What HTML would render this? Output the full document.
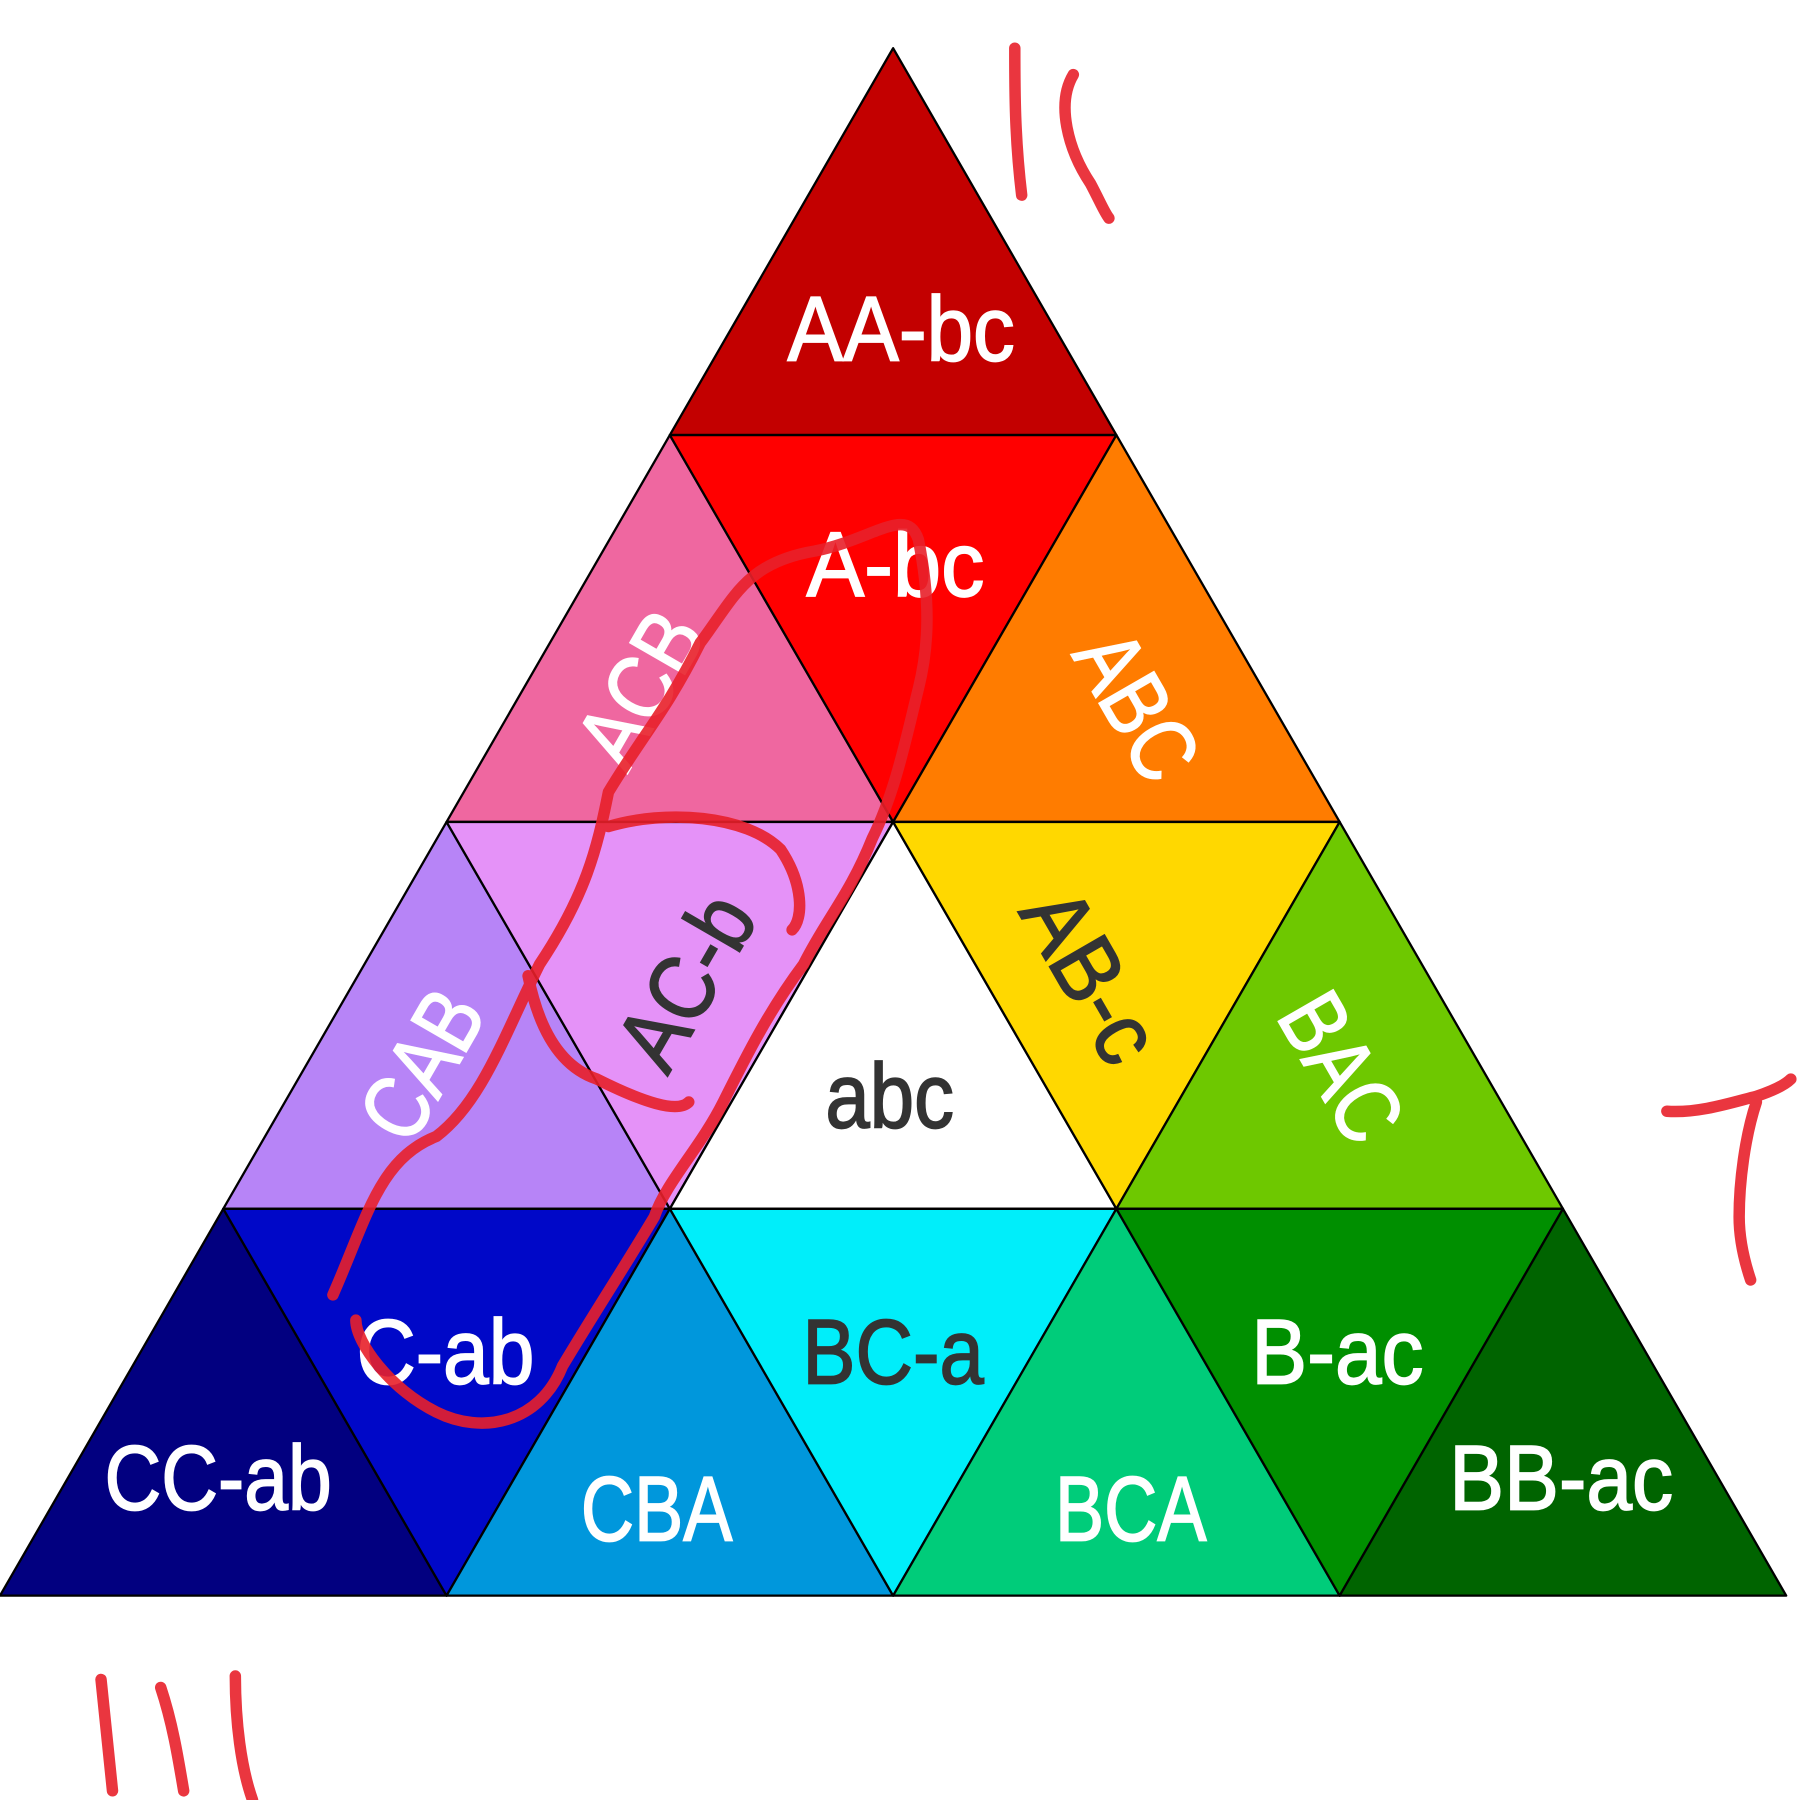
<!DOCTYPE html>
<html><head><meta charset="utf-8"><style>html,body{margin:0;padding:0;background:#fff}svg{display:block}
text{font-family:"Liberation Sans Narrow","Liberation Sans",sans-serif;font-size:80px;text-anchor:middle;dominant-baseline:central;fill:#fff;stroke:#fff;stroke-width:1.5}
.d{fill:#333;stroke:#333}</style></head><body>
<svg width="1800" height="1800" viewBox="0 0 1568 1568" xmlns="http://www.w3.org/2000/svg">
<g stroke="#000" stroke-width="2" stroke-linejoin="round">
<polygon points="778,42 583.5,379 972.5,379" fill="#c30000"/>
<polygon points="583.5,379 389,716 778,716" fill="#ef67a0"/>
<polygon points="583.5,379 972.5,379 778,716" fill="#ff0000"/>
<polygon points="972.5,379 778,716 1167,716" fill="#ff7c00"/>
<polygon points="389,716 194.5,1053 583.5,1053" fill="#b784f7"/>
<polygon points="389,716 778,716 583.5,1053" fill="#e592f8"/>
<polygon points="778,716 583.5,1053 972.5,1053" fill="#ffffff"/>
<polygon points="778,716 1167,716 972.5,1053" fill="#ffd800"/>
<polygon points="1167,716 972.5,1053 1361.5,1053" fill="#6ec800"/>
<polygon points="194.5,1053 0,1390 389,1390" fill="#020080"/>
<polygon points="194.5,1053 583.5,1053 389,1390" fill="#0008c8"/>
<polygon points="583.5,1053 389,1390 778,1390" fill="#0097dc"/>
<polygon points="583.5,1053 972.5,1053 778,1390" fill="#00eefa"/>
<polygon points="972.5,1053 778,1390 1167,1390" fill="#00cc7a"/>
<polygon points="972.5,1053 1361.5,1053 1167,1390" fill="#008f00"/>
<polygon points="1361.5,1053 1167,1390 1556,1390" fill="#006400"/>
</g>
<g lengthAdjust="spacingAndGlyphs">
<text x="785" y="287" textLength="198" lengthAdjust="spacingAndGlyphs">AA-bc</text>
<text x="780" y="492" textLength="155" lengthAdjust="spacingAndGlyphs">A-bc</text>
<text x="558" y="600" transform="rotate(-60 558 600)" textLength="140" lengthAdjust="spacingAndGlyphs">ACB</text>
<text x="990" y="615" transform="rotate(60 990 615)" textLength="135" lengthAdjust="spacingAndGlyphs">ABC</text>
<text x="368" y="928" transform="rotate(-60 368 928)" textLength="135" lengthAdjust="spacingAndGlyphs">CAB</text>
<text class="d" x="598" y="855" transform="rotate(-60 598 855)" textLength="160" lengthAdjust="spacingAndGlyphs">AC-b</text>
<text class="d" x="775" y="955" textLength="112" lengthAdjust="spacingAndGlyphs">abc</text>
<text class="d" x="950" y="850" transform="rotate(60 950 850)" textLength="160" lengthAdjust="spacingAndGlyphs">AB-c</text>
<text x="1168" y="930" transform="rotate(60 1168 930)" textLength="135" lengthAdjust="spacingAndGlyphs">BAC</text>
<text x="388" y="1178" textLength="155" lengthAdjust="spacingAndGlyphs">C-ab</text>
<text x="190" y="1288" textLength="198" lengthAdjust="spacingAndGlyphs">CC-ab</text>
<text x="572" y="1315" textLength="132" lengthAdjust="spacingAndGlyphs">CBA</text>
<text class="d" x="778" y="1178" textLength="158" lengthAdjust="spacingAndGlyphs">BC-a</text>
<text x="985" y="1315" textLength="132" lengthAdjust="spacingAndGlyphs">BCA</text>
<text x="1165" y="1178" textLength="150" lengthAdjust="spacingAndGlyphs">B-ac</text>
<text x="1360" y="1288" textLength="195" lengthAdjust="spacingAndGlyphs">BB-ac</text>
</g>
<g fill="none" stroke="#e8202a" stroke-width="10" stroke-linecap="round" stroke-linejoin="round" opacity="0.9">
<path d="M290,1128 C320,1060 330,1010 380,990 C420,960 440,900 470,840 C510,780 520,740 530,690 C560,640 580,620 610,560 C640,520 650,490 710,480 C760,470 790,440 800,470 C810,520 810,560 800,600 C790,640 780,690 760,730 C740,780 720,800 700,840 C670,880 650,920 630,960 C610,1000 580,1030 570,1060 C540,1110 520,1140 490,1190 C470,1240 420,1250 380,1230 C340,1210 310,1170 310,1150"/>
<path d="M530,720 C580,705 650,710 680,740 C700,770 700,800 690,810 M460,850 C470,900 490,930 520,940 C560,960 590,970 600,960"/>
<path d="M884,42 C884,80 884,120 890,170 M935,65 C920,90 930,130 950,160 C958,175 962,185 966,190"/>
<path d="M1452,968 C1480,970 1510,960 1530,955 C1545,950 1555,945 1560,940 M1530,960 C1520,990 1515,1030 1515,1060 C1515,1080 1520,1100 1525,1115"/>
<path d="M88,1463 C92,1500 95,1530 98,1560 M140,1470 C150,1500 155,1530 160,1560 M205,1460 C205,1500 210,1540 220,1568"/>
</g>
</svg>
</body></html>
